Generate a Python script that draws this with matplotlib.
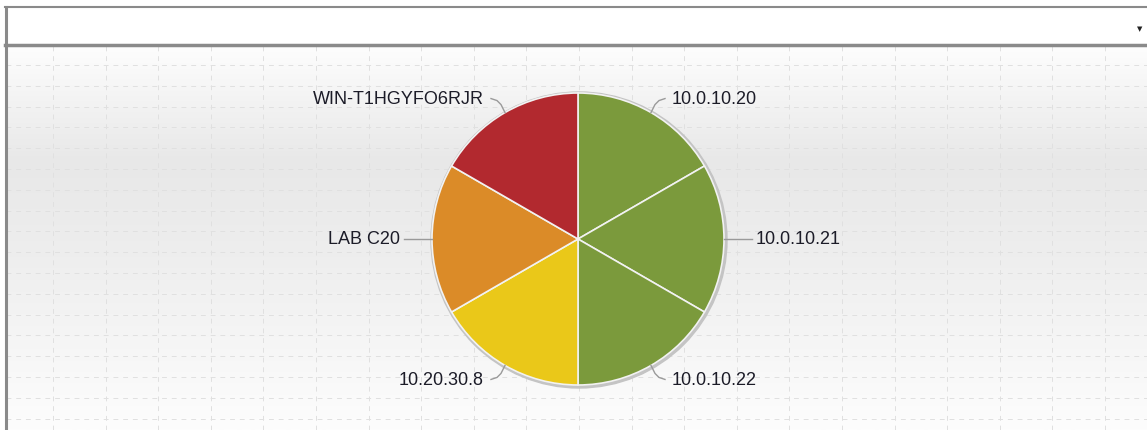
import numpy as np
import matplotlib.pyplot as plt
from matplotlib.colors import LinearSegmentedColormap

# host share per source address
hosts = ["10.0.10.20", "10.0.10.21", "10.0.10.22", "10.20.30.8", "LAB C20", "WIN-T1HGYFO6RJR"]
counts = [1, 1, 1, 1, 1, 1]
colors = ["#7b9a3c", "#7b9a3c", "#7b9a3c", "#eac819", "#db8b28", "#b2292f"]

W, H = 1147, 431
fig = plt.figure(figsize=(W / 100, H / 100), dpi=100)
ax = fig.add_axes([0, 0, 1, 1])

# panel background: soft vertical gradient under the header bar
grad = LinearSegmentedColormap.from_list(
    "panel", [(0.0, "#fdfdfd"), (0.3, "#e8e8e8"), (0.55, "#eeeeee"), (1.0, "#fdfdfd")])
ramp = np.linspace(0, 1, 256).reshape(-1, 1)
ax.imshow(ramp, cmap=grad, extent=[6, W, 0, H - 47], origin="upper",
          aspect="auto", zorder=0)

# dashed grid
for gy in np.arange(H - 66, 0, -20.8):
    ax.plot([6, W], [gy, gy], color="#e0e0e0", lw=0.7, ls=(0, (5, 5)), zorder=1)
for gx in np.arange(53, W, 52.6):
    ax.plot([gx, gx], [0, H - 47], color="#e0e0e0", lw=0.7, ls=(0, (5, 5)), zorder=1)

# header bar and frame
ax.fill_between([6, W], H - 45, H - 9, color="white", zorder=2)
ax.plot([5, W], [H - 8, H - 8], color="#8a8a8a", lw=1.5, zorder=3)
ax.plot([5, W], [H - 46, H - 46], color="#8a8a8a", lw=2.5, zorder=3)
ax.plot([5.5, 5.5], [0, H - 8], color="#8a8a8a", lw=2.2, zorder=3)
ax.text(1140, H - 29, "\u25BC", fontsize=5, color="#222222", ha="center", va="center", zorder=3)

# pie
cx, cy, r = 578, H - 240, 146
ax.add_patch(plt.Circle((cx + 1, cy - 1), r + 2, color="#c4c4c4", zorder=3))
wedges, _ = ax.pie(counts, colors=colors, center=(cx, cy), radius=r, startangle=90,
                   counterclock=False, frame=False,
                   wedgeprops=dict(edgecolor="#f2f2f2", linewidth=1.2))
for w in wedges:
    w.set_zorder(4)
ax.set_xlim(0, W)
ax.set_ylim(0, H)
ax.set_aspect("equal")
ax.axis("off")

# labels with leader lines
for w, name in zip(wedges, hosts):
    mid = np.deg2rad((w.theta1 + w.theta2) / 2)
    ux, uy = np.cos(mid), np.sin(mid)
    px, py = cx + r * ux, cy + r * uy
    side = 1 if ux > 0.01 else -1
    if abs(uy) < 0.2:
        xs, ys = [px, px + side * 28], [py, py]
        gap = 4
    else:
        s = np.sign(uy)
        xs = [px, px + side * 4, px + side * 8, px + side * 14]
        ys = [py, py + s * 8, py + s * 12, py + s * 14]
        gap = 7
    ax.plot(xs, ys, color="#9a9a9a", lw=1.0, zorder=5)
    ax.text(xs[-1] + side * gap, ys[-1], name, ha="left" if side > 0 else "right",
            va="center", fontsize=13, family="Liberation Sans", color="#1c1c28", zorder=5)

fig.savefig("out.png", dpi=100)
